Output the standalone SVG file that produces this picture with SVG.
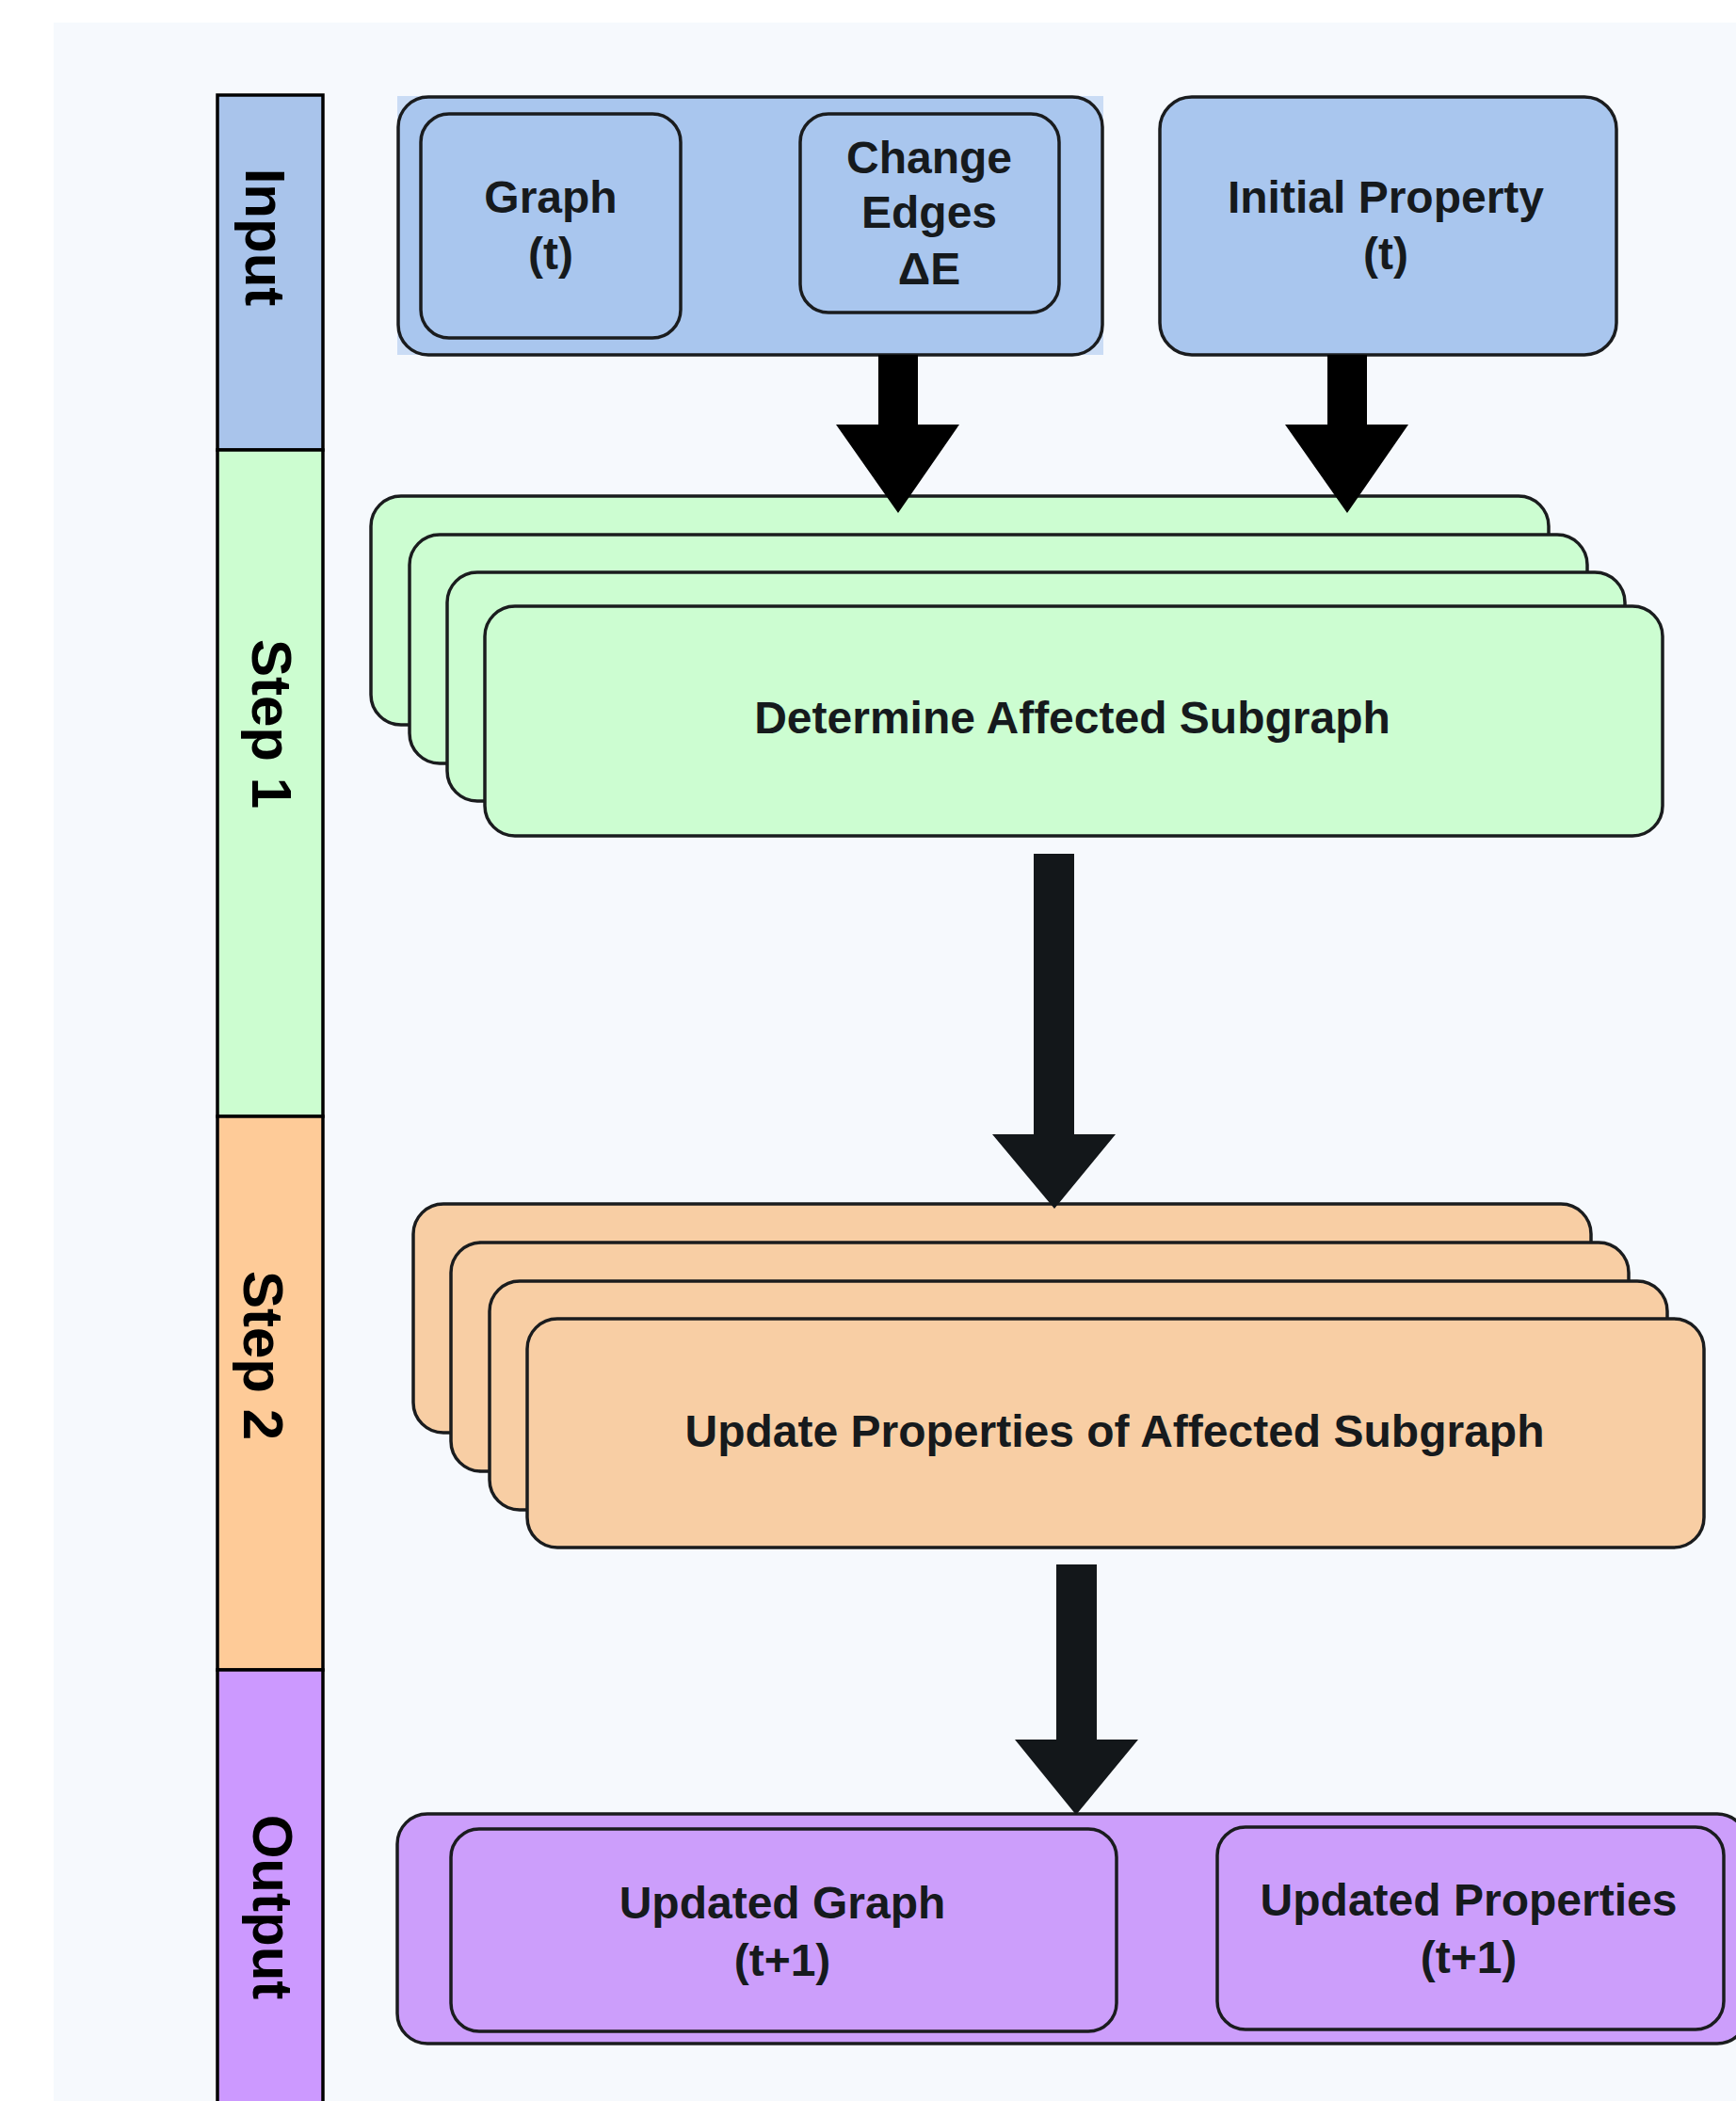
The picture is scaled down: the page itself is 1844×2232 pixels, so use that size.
<svg xmlns="http://www.w3.org/2000/svg" width="1844" height="2232" viewBox="0 0 1844 2232">
<defs>
<style>
.t{font-family:"Liberation Sans",Arial,sans-serif;font-weight:bold;fill:#161a1d;text-anchor:middle;}
.n{font-size:48px;}
.l{font-size:60px;fill:#000;}
.box{stroke:#1a1c1e;stroke-width:3.5;}
.lane{stroke:#000;stroke-width:3.5;}
.blue{fill:#a9c6ee;}
.green{fill:#ccfdd1;}
.orange{fill:#f8cea4;}
.purple{fill:#cc9efb;}
</style>
</defs>
<rect x="0" y="0" width="1844" height="2232" fill="#ffffff"/>
<rect x="57" y="24" width="1800" height="2220" fill="#f6f9fd"/>

<g id="lanes">
<g id="lane-input"><rect class="lane" x="231" y="101" width="112" height="377" fill="#a9c4eb"/>
<text class="t l" transform="translate(261,252) rotate(90)">Input</text></g>
<g id="lane-step1"><rect class="lane" x="231" y="478" width="112" height="708" fill="#ccfdd0"/>
<text class="t l" transform="translate(268,769) rotate(90)">Step 1</text></g>
<g id="lane-step2"><rect class="lane" x="231" y="1186" width="112" height="588" fill="#fecb98"/>
<text class="t l" transform="translate(259,1440) rotate(90)">Step 2</text></g>
<g id="lane-output"><rect class="lane" x="231" y="1774" width="112" height="480" fill="#cc99ff"/>
<text class="t l" transform="translate(269,2026) rotate(90)">Output</text></g>
</g>

<g id="input-group">
<rect x="422" y="102" width="750" height="275" fill="#cadcf5"/>
<rect class="box blue" x="423" y="103" width="748" height="274" rx="32"/>
</g>
<g id="graph-t">
<rect class="box blue" x="447" y="121" width="276" height="238" rx="30"/>
<text class="t n" x="585" y="226">Graph</text>
<text class="t n" x="585" y="286">(t)</text>
</g>
<g id="change-edges">
<rect class="box blue" x="850" y="121" width="275" height="211" rx="30"/>
<text class="t n" x="987" y="184">Change</text>
<text class="t n" x="987" y="242">Edges</text>
<text class="t n" x="987" y="302">ΔE</text>
</g>
<g id="initial-property">
<rect class="box blue" x="1232" y="103" width="485" height="274" rx="34"/>
<text class="t n" x="1472" y="226">Initial Property</text>
<text class="t n" x="1472" y="286">(t)</text>
</g>

<g id="determine-affected-subgraph">
<rect class="box green" x="394" y="527" width="1251" height="243" rx="32"/>
<rect class="box green" x="435" y="568" width="1251" height="243" rx="32"/>
<rect class="box green" x="475" y="608" width="1251" height="243" rx="32"/>
<rect class="box green" x="515" y="644" width="1251" height="244" rx="32"/>
<text class="t n" x="1139" y="779">Determine Affected Subgraph</text>
</g>

<g id="update-properties">
<rect class="box orange" x="439" y="1279" width="1251" height="243" rx="32"/>
<rect class="box orange" x="479" y="1320" width="1251" height="243" rx="32"/>
<rect class="box orange" x="520" y="1361" width="1251" height="243" rx="32"/>
<rect class="box orange" x="560" y="1401" width="1250" height="243" rx="32"/>
<text class="t n" x="1184" y="1537">Update Properties of Affected Subgraph</text>
</g>

<g id="output-group">
<rect class="box purple" x="422" y="1927" width="1434" height="244" rx="32"/>
</g>
<g id="updated-graph">
<rect class="box purple" x="479" y="1943" width="707" height="215" rx="30"/>
<text class="t n" x="831" y="2038">Updated Graph</text>
<text class="t n" x="831" y="2099">(t+1)</text>
</g>
<g id="updated-properties">
<rect class="box purple" x="1293" y="1941" width="538" height="215" rx="30"/>
<text class="t n" x="1560" y="2035">Updated Properties</text>
<text class="t n" x="1560" y="2096">(t+1)</text>
</g>

<g id="connectors">
<polygon fill="#000" points="933,377 975,377 975,451 1019,451 954,545 888,451 933,451"/>
<polygon fill="#000" points="1410,377 1452,377 1452,451 1496,451 1431,545 1365,451 1410,451"/>
<polygon fill="#13171a" points="1098,907 1141,907 1141,1205 1185,1205 1120,1284 1054,1205 1098,1205"/>
<polygon fill="#13171a" points="1122,1662 1165,1662 1165,1848 1209,1848 1143,1928 1078,1848 1122,1848"/>
</g>
</svg>
